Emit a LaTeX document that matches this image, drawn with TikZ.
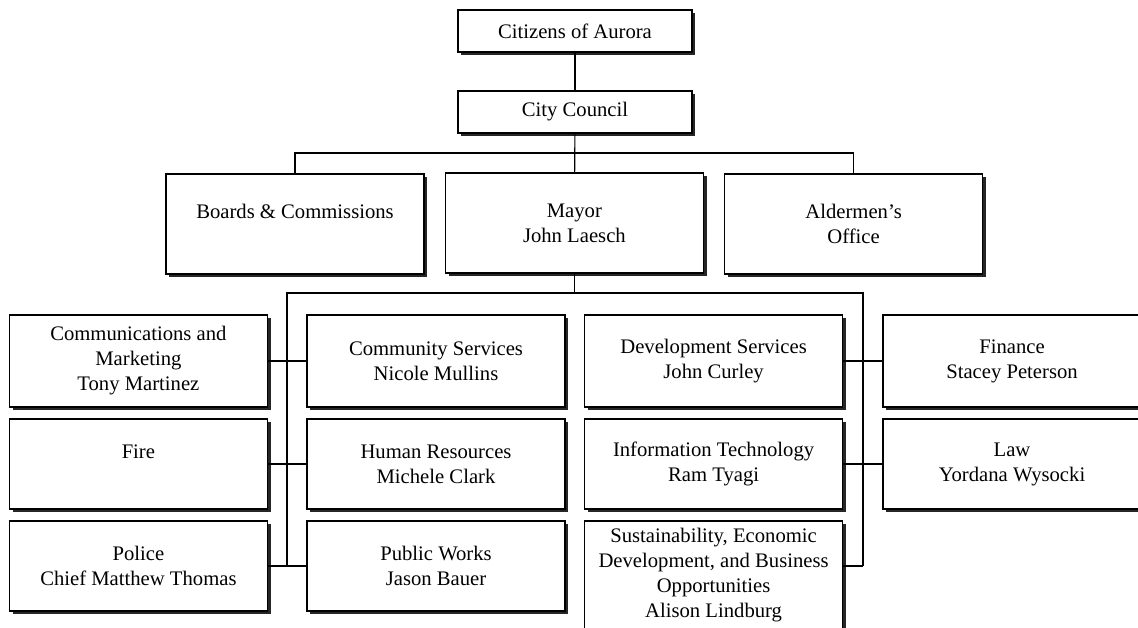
\documentclass[tikz,border=0pt]{standalone}
\usepackage{fontspec}
\setmainfont{Liberation Serif}
\usepackage{tikz}
\usetikzlibrary{shapes,arrows,positioning,calc,shadows}

\begin{document}
\begin{tikzpicture}[
    unit/.style={rectangle, draw=black, line width=0.9pt, fill=white, align=center, inner sep=2pt,
        font=\fontsize{14.7}{17.8}\selectfont,
        drop shadow={shadow xshift=0.08cm, shadow yshift=-0.08cm, fill=black, opacity=0.85}},
    toplevel/.style={unit, minimum width=5.85cm, minimum height=1.05cm},
    office/.style={unit, minimum width=6.45cm, minimum height=2.5cm},
    dept/.style={unit, minimum width=6.45cm, minimum height=2.25cm},
    link/.style={line width=0.8pt}
]
\clip (0,0) rectangle (28.45,-15.7);

% Top of the chart
\node[toplevel] (citizens) at (14.375, -0.775) {Citizens of Aurora};
\node[toplevel] (council) at (14.375, -2.8) {City Council};

\node[office] (boards) at (7.375, -5.6) {Boards \& Commissions\\ \mbox{}};
\node[office] (mayor) at (14.36, -5.575) {Mayor\\John Laesch};
\node[office] (alder) at (21.34, -5.6) {Aldermen's\\Office};

% Departments
\node[dept, minimum height=2.3cm] (comm) at (3.46, -9.025) {Communications and\\Marketing\\Tony Martinez};
\node[dept] (fire) at (3.46, -11.6) {Fire\\ \mbox{}};
\node[dept] (police) at (3.46, -14.15) {Police\\Chief Matthew Thomas};

\node[dept, minimum height=2.3cm] (community) at (10.9, -9.025) {Community Services\\Nicole Mullins};
\node[dept] (hr) at (10.9, -11.6) {Human Resources\\Michele Clark};
\node[dept] (works) at (10.9, -14.15) {Public Works\\Jason Bauer};

\node[dept, minimum height=2.3cm] (dev) at (17.84, -9.025) {Development Services\\John Curley};
\node[dept] (it) at (17.84, -11.6) {Information Technology\\Ram Tyagi};
\node[dept, minimum height=2.7cm] (sustain) at (17.84, -14.375) {Sustainability, Economic\\Development, and Business\\Opportunities\\Alison Lindburg};

\node[dept, minimum height=2.3cm] (finance) at (25.3, -9.025) {Finance\\Stacey Peterson};
\node[dept] (law) at (25.3, -11.6) {Law\\Yordana Wysocki};

% Connectors
\coordinate (top) at (14.375, -3.825);
\coordinate (lbus) at (7.175, -7.325);
\coordinate (rbus) at (21.575, -7.325);

\draw[link] (citizens) -- (council);
\draw[link] (council) -- (mayor);
\draw[link] (boards.north) |- (top) -| (alder.north);

\draw[link] (mayor.south) -- (mayor.south |- lbus);
\draw[link] (lbus |- police) -- (lbus) -- (rbus) -- (rbus |- police);
\draw[link] (comm) -- (community);
\draw[link] (fire) -- (hr);
\draw[link] (police) -- (works);
\draw[link] (dev) -- (finance);
\draw[link] (it) -- (law);
\draw[link] (sustain.east |- police) -- (rbus |- police);

\end{tikzpicture}
\end{document}
